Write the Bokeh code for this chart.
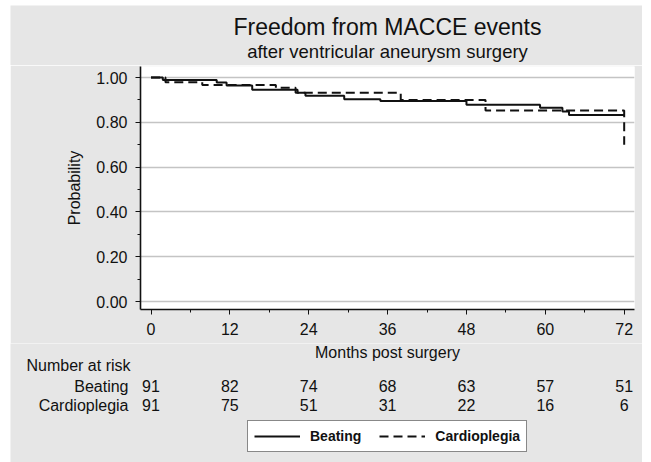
from bokeh.plotting import figure
from bokeh.models import Range1d, Legend, LegendItem, FixedTicker, NumeralTickFormatter, ColumnDataSource
from bokeh.core.properties import value
from bokeh.embed import file_html
from bokeh.resources import INLINE

# ---- data ----
beating_t = [0, 1.8, 10.0, 11.5, 15.4, 22.3, 23.5, 29.4, 34.9, 48.0, 59.2, 62.6, 63.6, 72.0]
beating_s = [1.000, 0.989, 0.978, 0.964, 0.945, 0.932, 0.918, 0.903, 0.895, 0.878, 0.865, 0.848, 0.833, 0.833]
cardio_t = [0, 2.2, 7.8, 19.0, 22.0, 38.0, 50.9, 72.0]
cardio_s = [1.000, 0.979, 0.967, 0.954, 0.932, 0.900, 0.853, 0.700]

risk_months = [0, 12, 24, 36, 48, 60, 72]
minor_months = [6, 18, 30, 42, 54, 66]
risk_beating = [91, 82, 74, 68, 63, 57, 51]
risk_cardio = [91, 75, 51, 31, 22, 16, 6]
y_ticks = [0.0, 0.2, 0.4, 0.6, 0.8, 1.0]
y_minor = [0.1, 0.3, 0.5, 0.7, 0.9]

title = "Freedom from MACCE events"
subtitle = "after ventricular aneurysm surgery"
x_label = "Months post surgery"
y_label = "Probability"
group_names = ["Beating", "Cardioplegia"]
risk_title = "Number at risk"

# ---- layout (page pixels) ----
BG = "#e6e6e6"
INK = "#111111"
FONT = "Liberation Sans"
OX, OY = 10, 5            # gray panel offset on the white page
W = 632                   # gray panel width
X0_PX, PX_PER_MONTH = 150.5, 6.572
Y1_PX, PX_PER_UNIT = 77.0, 224.0
FL, FR, FT, FB = 140, 634, 66, 309
TOP_END, MAIN_END, PAGE_END = 65, 343, 462
BASE_SHIFT = 0.38         # text box correction (fraction of font size)


def x_at(px):
    return (px - X0_PX) / PX_PER_MONTH


def y_at(py):
    return 1.0 - (py - Y1_PX) / PX_PER_UNIT


def base(py, fs):
    return py - BASE_SHIFT * fs


def strip(h, x_range, y_range, top_margin=0):
    f = figure(width=W, height=h, output_backend="svg", toolbar_location=None, title=None,
               x_range=x_range, y_range=y_range, x_axis_type=None, y_axis_type=None,
               min_border=0, margin=(top_margin, 0, 0, OX))
    f.background_fill_color = BG
    f.border_fill_color = BG
    f.outline_line_color = None
    f.grid.visible = False
    return f


def put_text(fig, xs, py, texts, fs, align):
    src = ColumnDataSource(dict(x=list(xs), y=[base(py, fs)] * len(texts), t=list(texts)))
    fig.text(x="x", y="y", text="t", source=src, text_align=align,
             text_baseline="alphabetic", text_font=value(FONT),
             text_font_size=f"{fs}px", text_color=INK)


# ---- title strip ----
pt = strip(TOP_END - OY, Range1d(OX, OX + W), Range1d(TOP_END, OY), top_margin=OY)
put_text(pt, [(FL + FR) / 2], 35, [title], 23, "center")
put_text(pt, [(FL + FR) / 2], 58.5, [subtitle], 18.5, "center")

# ---- main plot ----
H = MAIN_END - TOP_END
p = figure(width=W, height=H, output_backend="svg", toolbar_location=None, title=None,
           x_range=Range1d(x_at(FL), x_at(FR)), y_range=Range1d(y_at(FB), y_at(FT)),
           min_border_left=FL - OX, min_border_right=OX + W - FR,
           min_border_top=FT - TOP_END, min_border_bottom=MAIN_END - FB,
           margin=(0, 0, 0, OX))
p.background_fill_color = "white"
p.border_fill_color = BG
p.outline_line_color = None

p.xgrid.visible = False
p.ygrid.ticker = FixedTicker(ticks=y_ticks)
p.ygrid.grid_line_color = "#c4c4c4"
p.ygrid.grid_line_width = 1.5

for ax in (p.xaxis[0], p.yaxis[0]):
    ax.axis_line_color = INK
    ax.axis_line_width = 1.6
    ax.major_tick_line_color = INK
    ax.minor_tick_line_color = INK
    ax.major_tick_in = 0
    ax.major_tick_out = 5
    ax.minor_tick_in = 0
    ax.minor_tick_out = 3
    ax.major_label_text_font = FONT
    ax.major_label_text_font_size = "16px"
    ax.major_label_text_color = INK
    ax.axis_label_text_font = FONT
    ax.axis_label_text_font_size = "16px"
    ax.axis_label_text_font_style = "normal"
    ax.axis_label_text_color = INK

p.xaxis.ticker = FixedTicker(ticks=risk_months, minor_ticks=minor_months)
p.yaxis.ticker = FixedTicker(ticks=y_ticks, minor_ticks=y_minor)
p.yaxis.formatter = NumeralTickFormatter(format="0.00")
p.yaxis.axis_label = y_label
p.xaxis.major_label_standoff = 8
p.yaxis.major_label_standoff = 8
p.yaxis.axis_label_standoff = 10

p.step(beating_t, beating_s, mode="after", line_color=INK, line_width=2)
p.step(cardio_t, cardio_s, mode="after", line_color=INK, line_width=2, line_dash="9 5")

# ---- x title, number-at-risk table + legend ----
pb = strip(PAGE_END - MAIN_END, Range1d(x_at(OX), x_at(OX + W)), Range1d(PAGE_END, MAIN_END))
put_text(pb, [x_at((FL + FR) / 2)], 358, [x_label], 16, "center")
put_text(pb, [x_at(26)], 371, [risk_title], 16, "left")
for name, counts, row_base in ((group_names[0], risk_beating, 392),
                               (group_names[1], risk_cardio, 411)):
    put_text(pb, [x_at(128)], row_base, [name], 16, "right")
    put_text(pb, risk_months, row_base, [str(c) for c in counts], 16, "center")

# legend entries: the same curves drawn in the strip, where they fall outside its view
lr1 = pb.step(beating_t, beating_s, mode="after", line_color=INK, line_width=2)
lr2 = pb.step(cardio_t, cardio_s, mode="after", line_color=INK, line_width=2, line_dash="9 5")
legend = Legend(items=[LegendItem(label=group_names[0], renderers=[lr1]),
                       LegendItem(label=group_names[1], renderers=[lr2])],
                orientation="horizontal", location=(247 - OX, PAGE_END - 452))
legend.border_line_color = INK
legend.border_line_width = 1.5
legend.background_fill_color = "white"
legend.background_fill_alpha = 1.0
legend.label_text_font = FONT
legend.label_text_font_style = "bold"
legend.label_text_font_size = "14px"
legend.label_text_color = INK
legend.glyph_width = 46
legend.glyph_height = 18
legend.label_height = 18
legend.label_standoff = 10
legend.spacing = 18
legend.padding = 6
legend.margin = 0
pb.add_layout(legend, "center")

open("out.html", "w").write(file_html([pt, p, pb], INLINE))
